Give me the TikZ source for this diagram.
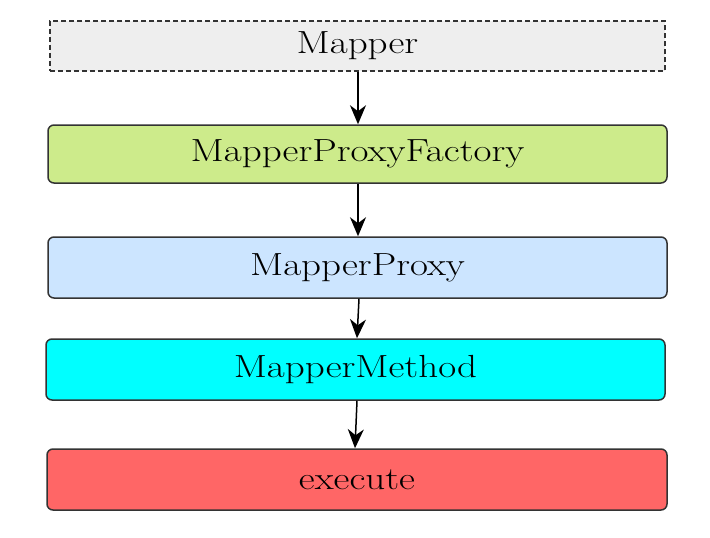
\documentclass[tikz,border=0pt]{standalone}
\usepackage{fontspec}
\setmainfont{Latin Modern Roman}[FakeStretch=1.22]
\usetikzlibrary{arrows.meta}
\definecolor{boxline}{HTML}{333333}
\definecolor{grayfill}{HTML}{EEEEEE}
\definecolor{greenfill}{HTML}{CDEB8B}
\definecolor{bluefill}{HTML}{CCE5FF}
\definecolor{cyanfill}{HTML}{00FFFF}
\definecolor{redfill}{HTML}{FF6666}
\tikzset{
  stepbox/.style={draw=boxline, line width=1.5pt, rounded corners=6pt,
    font=\fontsize{32}{36}\selectfont, inner sep=0pt},
  flow/.style={draw=black, line width=1.5pt, -{Stealth[length=19pt,width=16pt,inset=6pt]}}
}
\begin{document}
\begin{tikzpicture}[x=1pt,y=-1pt]
  \useasboundingbox (0,0) rectangle (710,538);
  % boxes, drawn from their pixel frames
  \node[stepbox, rounded corners=0pt, dash pattern=on 5pt off 3pt, fill=grayfill,
        minimum width=615pt, minimum height=50pt] (mapper) at (357.5,46) {Mapper};
  \node[stepbox, fill=greenfill, minimum width=619pt, minimum height=58pt]
        (factory) at (357.5,154) {MapperProxyFactory};
  \node[stepbox, fill=bluefill, minimum width=619pt, minimum height=61pt]
        (proxy) at (357.5,267.5) {MapperProxy};
  \node[stepbox, fill=cyanfill, minimum width=619pt, minimum height=61pt]
        (method) at (355.5,369.5) {MapperMethod};
  \node[stepbox, fill=redfill, minimum width=620pt, minimum height=61pt]
        (execute) at (357,479.5) {execute};
  % connectors
  \draw[flow] (mapper.south -| 358,0) -- (factory.north -| 358,0);
  \draw[flow] (factory.south -| 358,0) -- (proxy.north -| 358,0);
  \draw[flow] (proxy.south -| 359,0) -- (method.north -| 357,0);
  \draw[flow] (method.south -| 357,0) -- (execute.north -| 355,0);
\end{tikzpicture}
\end{document}
